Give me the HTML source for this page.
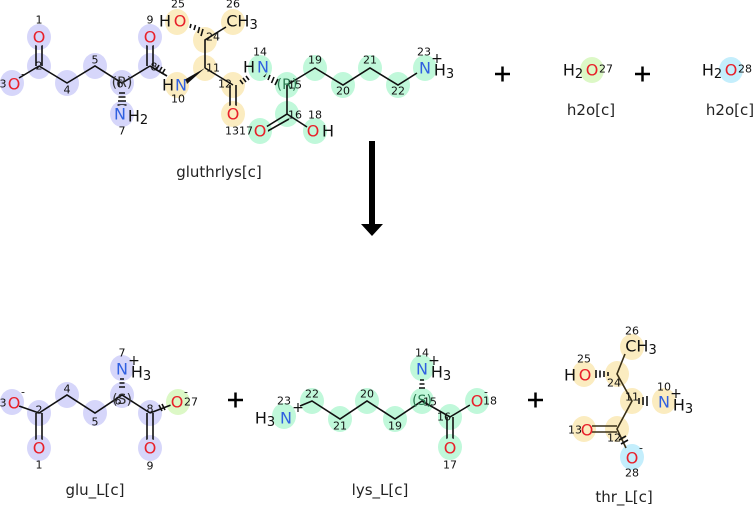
<!DOCTYPE html>
<html><head><meta charset="utf-8"><style>
html,body{margin:0;padding:0;background:#fff;width:756px;height:507px;overflow:hidden}
svg{display:block}
text{font-family:"DejaVu Sans","Liberation Sans",sans-serif}
.a{font-size:16px;text-anchor:middle;dominant-baseline:central}
.n{font-size:11px;fill:#111;text-anchor:middle;dominant-baseline:central}
.l{font-size:15px;fill:#222;text-anchor:middle}
.b{stroke:#111;stroke-width:1.6;fill:none}
.bl{fill:#d6d6fa}.y{fill:#fbecc0}.g{fill:#c0f8da}.lm{fill:#dcf8c6}.cy{fill:#c4eefc}
.O{fill:#e8202a}.N{fill:#3060e0}.K{fill:#111}
.p{stroke:#000;stroke-width:2.5}
</style></head><body>
<svg width="756" height="507" viewBox="0 0 756 507" xmlns="http://www.w3.org/2000/svg">
<g>
<ellipse class="bl" cx="39" cy="37" rx="12" ry="13"/>
<ellipse class="bl" cx="39" cy="66" rx="12" ry="13"/>
<ellipse class="bl" cx="12" cy="83" rx="12" ry="13"/>
<ellipse class="bl" cx="67" cy="83" rx="12" ry="13"/>
<ellipse class="bl" cx="95" cy="66" rx="12" ry="13"/>
<ellipse class="bl" cx="122" cy="83" rx="12" ry="13"/>
<ellipse class="bl" cx="122" cy="114" rx="12" ry="13"/>
<ellipse class="bl" cx="150" cy="66" rx="12" ry="13"/>
<ellipse class="bl" cx="150" cy="37" rx="12" ry="13"/>
<ellipse class="y" cx="177" cy="85" rx="12" ry="13"/>
<ellipse class="y" cx="205" cy="68" rx="12" ry="13"/>
<ellipse class="y" cx="205" cy="40" rx="12" ry="13"/>
<ellipse class="y" cx="177" cy="22" rx="12" ry="13"/>
<ellipse class="y" cx="233" cy="22" rx="12" ry="13"/>
<ellipse class="y" cx="233" cy="85" rx="12" ry="13"/>
<ellipse class="y" cx="233" cy="114" rx="12" ry="13"/>
<ellipse class="g" cx="260" cy="68" rx="12" ry="13"/>
<ellipse class="g" cx="287" cy="85" rx="12" ry="13"/>
<ellipse class="g" cx="287" cy="114" rx="12" ry="13"/>
<ellipse class="g" cx="260" cy="131" rx="12" ry="13"/>
<ellipse class="g" cx="315" cy="131" rx="12" ry="13"/>
<ellipse class="g" cx="315" cy="68" rx="12" ry="13"/>
<ellipse class="g" cx="343" cy="85" rx="12" ry="13"/>
<ellipse class="g" cx="370" cy="68" rx="12" ry="13"/>
<ellipse class="g" cx="398" cy="85" rx="12" ry="13"/>
<ellipse class="g" cx="425" cy="68" rx="12" ry="13"/>

<path class="b" d="M36 66V45 M42 66V45 M39 66L19 78 M39 66L67 83L95 66L122 83L150 66 M147 66V45 M153 66V45 M150 66L167 76 M205 68V40L226 27 M205 68L233 85 M230 85V106 M236 85V106 M287 85V114L266 127 M289 119L266 132 M287 114L307 127 M287 85L315 68L343 85L370 68L398 85L417 73"/>
<path class="b" stroke-width="1.2" d="M119 93h6M118.5 97h7M118 101h8M117.5 105h9 M190 28l1 -4M194 30l1.5 -5M198 33l1.5 -6M201 36l2 -7 M156 70l3 -5 M159 72l3 -5 M162 74l3 -5 M240 80l3 4 M243 78l3 4 M246 76l3 4 M266 73l-2 4 M270 75l-2 5 M274 77l-2.5 6 M278 79l-3 6"/>
<polygon points="205,68 184,80 187,84" fill="#111"/>

<ellipse class="bl" cx="39" cy="37" rx="8" ry="9"/>
<ellipse class="bl" cx="12" cy="83" rx="8" ry="9"/>
<ellipse class="bl" cx="122" cy="114" rx="8" ry="9"/>
<ellipse class="bl" cx="150" cy="37" rx="8" ry="9"/>
<ellipse class="y" cx="177" cy="85" rx="10" ry="9"/>
<ellipse class="y" cx="177" cy="22" rx="8" ry="9"/>
<ellipse class="y" cx="233" cy="22" rx="8" ry="9"/>
<ellipse class="y" cx="233" cy="114" rx="8" ry="9"/>
<ellipse class="g" cx="260" cy="68" rx="8" ry="9"/>
<ellipse class="g" cx="260" cy="131" rx="8" ry="9"/>
<ellipse class="g" cx="315" cy="131" rx="8" ry="9"/>
<ellipse class="g" cx="425" cy="68" rx="8" ry="9"/>

<text class="a O" x="39" y="37">O</text><text class="n" x="39" y="20">1</text>
<text class="n" x="39" y="66">2</text>
<text class="a O" x="14" y="84">O</text><text class="n" x="3" y="84">3</text><text class="n" x="23" y="74">-</text>
<text class="n" x="67" y="90">4</text><text class="n" x="95" y="60">5</text>
<text class="a" x="122" y="83" style="font-size:14px;fill:#333">(R)</text><text class="n" x="120" y="84">6</text>
<text class="a N" x="120" y="114">N</text><text class="a K" x="138" y="116">H<tspan font-size="13" dy="4">2</tspan></text><text class="n" x="122" y="131">7</text>
<text class="n" x="154" y="67">8</text>
<text class="a O" x="150" y="37">O</text><text class="n" x="150" y="20">9</text>
<text class="a N" x="181" y="85">N</text><text class="a K" x="168" y="85">H</text><text class="n" x="178" y="99">10</text>
<text class="n" x="213" y="68">11</text><text class="n" x="225" y="84">12</text>
<text class="a O" x="233" y="114">O</text><text class="n" x="239" y="131">1317</text>
<text class="n" x="213" y="37">24</text>
<text class="a O" x="180" y="21">O</text><text class="a K" x="165" y="21">H</text><text class="n" x="178" y="4">25</text>
<text class="a K" x="242" y="21">CH<tspan font-size="13" dy="4">3</tspan></text><text class="n" x="233" y="4">26</text>
<text class="a N" x="263" y="67">N</text><text class="a K" x="249" y="67">H</text><text class="n" x="260" y="52">14</text>
<text class="a" x="287" y="85" style="font-size:14px;fill:#2a7a50">(R)</text><text class="n" x="295" y="85">15</text>
<text class="n" x="295" y="115">16</text>
<text class="a O" x="260" y="131">O</text>
<text class="a O" x="313" y="131">O</text><text class="a K" x="328" y="131">H</text><text class="n" x="315" y="115">18</text>
<text class="n" x="315" y="60">19</text><text class="n" x="343" y="91">20</text><text class="n" x="370" y="60">21</text><text class="n" x="398" y="91">22</text>
<text class="a N" x="425" y="68">N</text><text class="a K" x="444" y="70">H<tspan font-size="13" dy="4">3</tspan></text><text class="n" x="424" y="52">23</text><text class="a K" x="437" y="59" style="font-size:14px">+</text>
<text class="l" x="219" y="177">gluthrlys[c]</text>
</g>

<path class="p" d="M495 74h15M502.5 66.5v15 M635 74h15M642.5 66.5v15 M228 400h15M235.5 392.5v15 M528 400h15M535.5 392.5v15"/>

<ellipse class="lm" cx="592" cy="70" rx="12" ry="13"/>
<text class="a K" x="573" y="70">H<tspan font-size="13" dy="4">2</tspan></text><text class="a O" x="592" y="70">O</text><text class="n" x="606" y="69">27</text>
<text class="l" x="591" y="115">h2o[c]</text>
<ellipse class="cy" cx="731" cy="70" rx="12" ry="13"/>
<text class="a K" x="712" y="70">H<tspan font-size="13" dy="4">2</tspan></text><text class="a O" x="731" y="70">O</text><text class="n" x="745" y="69">28</text>
<text class="l" x="730" y="115">h2o[c]</text>

<rect x="369" y="141" width="6" height="85" fill="#000"/>
<polygon points="361,224 383,224 372,236" fill="#000"/>

<g>
<ellipse class="bl" cx="12" cy="402" rx="12" ry="13"/>
<ellipse class="bl" cx="39" cy="413" rx="12" ry="13"/>
<ellipse class="bl" cx="39" cy="448" rx="12" ry="13"/>
<ellipse class="bl" cx="67" cy="395" rx="12" ry="13"/>
<ellipse class="bl" cx="95" cy="413" rx="12" ry="13"/>
<ellipse class="bl" cx="122" cy="395" rx="12" ry="13"/>
<ellipse class="bl" cx="122" cy="368" rx="12" ry="13"/>
<ellipse class="bl" cx="150" cy="413" rx="12" ry="13"/>
<ellipse class="bl" cx="150" cy="448" rx="12" ry="13"/>
<ellipse class="lm" cx="178" cy="402" rx="12" ry="13"/>
<path class="b" d="M19 406L39 413L67 395L95 413L122 395L150 413 M36 413V440 M42 413V440 M147 413V440 M153 413V440 M150 413L171 405"/>
<path class="b" stroke-width="1.2" d="M119 387h6M119.5 383h5M120 379h4 M159 405l3 6M162 404l3 6"/>
<ellipse class="bl" cx="12" cy="402" rx="8" ry="9"/><ellipse class="bl" cx="39" cy="448" rx="8" ry="9"/>
<ellipse class="bl" cx="122" cy="368" rx="8" ry="9"/><ellipse class="bl" cx="150" cy="448" rx="8" ry="9"/>
<ellipse class="lm" cx="178" cy="402" rx="8" ry="9"/>
<text class="a O" x="14" y="403">O</text><text class="n" x="3" y="403">3</text><text class="n" x="23" y="392">-</text>
<text class="n" x="39" y="410">2</text>
<text class="a O" x="39" y="448">O</text><text class="n" x="39" y="465">1</text>
<text class="n" x="67" y="389">4</text><text class="n" x="95" y="422">5</text>
<text class="a" x="122" y="400" style="font-size:14px;fill:#333">(S)</text><text class="n" x="118" y="401">6</text>
<text class="a N" x="122" y="369">N</text><text class="a K" x="141" y="372">H<tspan font-size="13" dy="4">3</tspan></text><text class="n" x="122" y="353">7</text><text class="a K" x="134" y="361" style="font-size:14px">+</text>
<text class="n" x="150" y="409">8</text>
<text class="a O" x="150" y="448">O</text><text class="n" x="150" y="466">9</text>
<text class="a O" x="177" y="402">O</text><text class="n" x="191" y="402">27</text><text class="n" x="186" y="392">-</text>
<text class="l" x="95" y="495">glu_L[c]</text>
</g>

<g>
<ellipse class="g" cx="284" cy="416" rx="12" ry="13"/>
<ellipse class="g" cx="312" cy="401" rx="12" ry="13"/>
<ellipse class="g" cx="340" cy="419" rx="12" ry="13"/>
<ellipse class="g" cx="367" cy="401" rx="12" ry="13"/>
<ellipse class="g" cx="395" cy="419" rx="12" ry="13"/>
<ellipse class="g" cx="422" cy="401" rx="12" ry="13"/>
<ellipse class="g" cx="422" cy="368" rx="12" ry="13"/>
<ellipse class="g" cx="450" cy="417" rx="12" ry="13"/>
<ellipse class="g" cx="450" cy="447" rx="12" ry="13"/>
<ellipse class="g" cx="477" cy="401" rx="12" ry="13"/>
<path class="b" d="M300 406L312 401L340 419L367 401L395 419L422 401L450 417L470 405 M447 417V440 M453 417V440"/>
<path class="b" stroke-width="1.2" d="M419 388h6M419.5 384h5M420 380h4"/>
<ellipse class="g" cx="284" cy="416" rx="8" ry="9"/><ellipse class="g" cx="422" cy="368" rx="8" ry="9"/>
<ellipse class="g" cx="450" cy="447" rx="8" ry="9"/><ellipse class="g" cx="477" cy="401" rx="8" ry="9"/>
<text class="a K" x="265" y="418">H<tspan font-size="13" dy="4">3</tspan></text><text class="a N" x="286" y="418">N</text><text class="n" x="284" y="401">23</text><text class="a K" x="298" y="408" style="font-size:14px">+</text>
<text class="n" x="312" y="394">22</text><text class="n" x="340" y="426">21</text><text class="n" x="367" y="394">20</text><text class="n" x="395" y="426">19</text>
<text class="a" x="422" y="401" style="font-size:14px;fill:#2a7a50">(S)</text><text class="n" x="430" y="402">15</text>
<text class="a N" x="422" y="369">N</text><text class="a K" x="441" y="372">H<tspan font-size="13" dy="4">3</tspan></text><text class="n" x="422" y="353">14</text><text class="a K" x="434" y="361" style="font-size:14px">+</text>
<text class="n" x="444" y="417">16</text>
<text class="a O" x="450" y="448">O</text><text class="n" x="450" y="465">17</text>
<text class="a O" x="477" y="401">O</text><text class="n" x="490" y="401">18</text><text class="n" x="486" y="392">-</text>
<text class="l" x="380" y="495">lys_L[c]</text>
</g>

<g>
<ellipse class="y" cx="632" cy="347" rx="12" ry="13"/>
<ellipse class="y" cx="584" cy="374" rx="12" ry="13"/>
<ellipse class="y" cx="617" cy="374" rx="12" ry="13"/>
<ellipse class="y" cx="632" cy="401" rx="12" ry="13"/>
<ellipse class="y" cx="664" cy="401" rx="12" ry="13"/>
<ellipse class="y" cx="617" cy="429" rx="12" ry="13"/>
<ellipse class="y" cx="584" cy="429" rx="12" ry="13"/>
<ellipse class="cy" cx="632" cy="457" rx="12" ry="13"/>
<path class="b" style="stroke:#3a3018" d="M625 354L617 374L632 401L617 429L626 448 M592 426H617 M592 432H617"/>
<path class="b" stroke-width="1.2" d="M596 370v8M600 370.5v7M604 371v6M608 372v4 M647 396v10M643 397v8M639 398v6 M619 440l7-4M621 444l7-4"/>
<ellipse class="y" cx="632" cy="347" rx="8" ry="9"/><ellipse class="y" cx="584" cy="374" rx="8" ry="9"/>
<ellipse class="y" cx="664" cy="401" rx="8" ry="9"/><ellipse class="y" cx="584" cy="429" rx="8" ry="9"/>
<ellipse class="cy" cx="632" cy="457" rx="8" ry="9"/>
<text class="a K" x="641" y="346">CH<tspan font-size="13" dy="4">3</tspan></text><text class="n" x="632" y="331">26</text>
<text class="a O" x="585" y="375">O</text><text class="a K" x="570" y="375">H</text><text class="n" x="584" y="359">25</text>
<text class="n" x="614" y="383">24</text><text class="n" x="632" y="397">11</text>
<text class="a N" x="664" y="402">N</text><text class="a K" x="683" y="405">H<tspan font-size="13" dy="4">3</tspan></text><text class="n" x="664" y="387">10</text><text class="a K" x="676" y="394" style="font-size:14px">+</text>
<text class="n" x="614" y="438">12</text>
<text class="a O" x="587" y="430">O</text><text class="n" x="575" y="430">13</text>
<text class="a O" x="632" y="458">O</text><text class="n" x="641" y="448">-</text><text class="n" x="632" y="473">28</text>
<text class="l" x="624" y="502">thr_L[c]</text>
</g>
</svg>
</body></html>
